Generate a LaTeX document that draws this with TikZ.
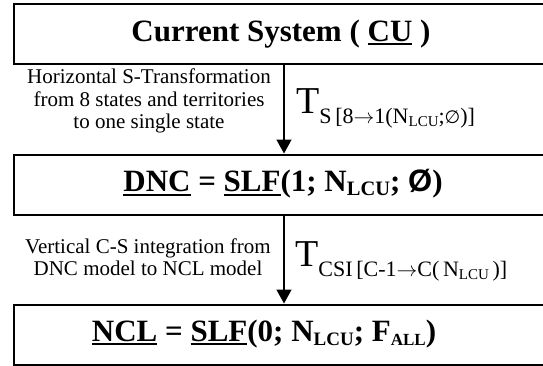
\documentclass[tikz,border=0pt]{standalone}
\usepackage{fontspec}
\setmainfont{Liberation Serif}
\newfontfamily\sansbold{Liberation Sans}
\newfontfamily\symfont{DejaVu Sans}
\usetikzlibrary{arrows.meta}
\tikzset{
  box/.style={draw, line width=2pt, minimum height=60pt, inner sep=0pt, anchor=north west},
  arr/.style={line width=1.6pt, -{Triangle[width=15pt,length=14pt]}},
  lab/.style={align=center, font=\fontsize{21}{22.5}\selectfont, inner sep=0pt},
  boxtext/.style={font=\fontsize{31}{31}\selectfont\bfseries, inner sep=0pt},
  tlab/.style={anchor=base west, inner sep=0pt},
}
\newcommand{\ul}[1]{\leavevmode\vtop{\hbox{#1}\kern1.6pt\hrule height 2pt}}
\newcommand{\bsub}[2]{\raisebox{-0.25ex}{\fontsize{#1}{#1}\selectfont #2}}
\newcommand{\tsub}[1]{\raisebox{-10pt}{\fontsize{22}{22}\selectfont #1}}
\newcommand{\lsub}[1]{\raisebox{-3.5pt}{\fontsize{15}{15}\selectfont #1}}
\begin{document}
\begin{tikzpicture}[x=1pt,y=1pt]
\useasboundingbox (0,0) rectangle (543,365);
\clip (0,0) rectangle (543,365);
\fill[white] (0,0) rectangle (543,365);
\node[box, minimum width=560pt] (b1) at (12.5,361.5) {};
\node[box, minimum width=560pt] (b2) at (12.5,211.5) {};
\node[box, minimum width=560pt] (b3) at (12.5,61.5) {};
\coordinate (ax) at (284,0);
\node[boxtext] (t1) at (281,331) {Current System ( \ul{CU} )};
\node[boxtext] (t2) at (283,181) {\ul{DNC} = \ul{SLF}(1; N\bsub{20.5}{LCU}; {\sansbold\bfseries Ø})};
\node[boxtext] (t3) at (264,31) {\ul{NCL} = \ul{SLF}(0; N\bsub{19}{LCU}; F\bsub{17}{ALL})};
\draw[arr] (b1.south -| ax) -- (b2.north -| ax);
\draw[arr] (b2.south -| ax) -- (b3.north -| ax);
\node[lab] (l1) at (149,264) {Horizontal S-Transformation\\from 8 states and territories\\to one single state};
\node[lab] (l2) at (148,108) {Vertical C-S integration from\\DNC model to NCL model};
\node[tlab] (tr1) at (296,252) {\fontsize{38}{38}\selectfont T\tsub{S\,[8$\rightarrow$1(N\lsub{LCU};{\symfont\fontsize{18}{18}\selectfont ∅})]}};
\node[tlab] (tr2) at (295,99) {\fontsize{38}{38}\selectfont T\tsub{CSI\,[C-1$\rightarrow$C(\,N\lsub{LCU}\,)]}};
\end{tikzpicture}
\end{document}
